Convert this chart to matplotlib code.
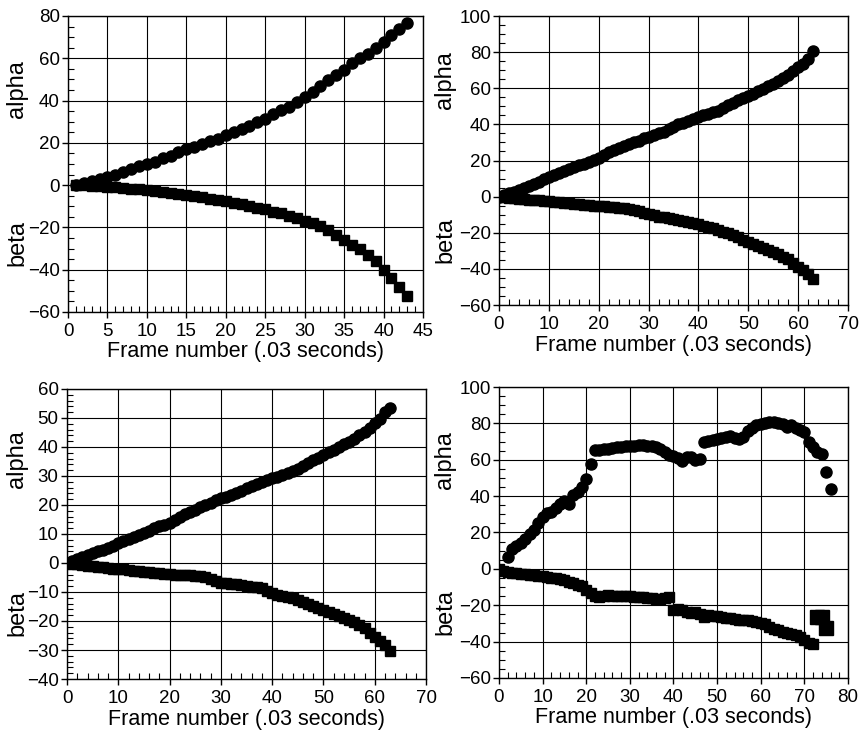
import matplotlib
matplotlib.use("Agg")
import matplotlib.pyplot as plt
from matplotlib.ticker import MultipleLocator

plt.rcParams['font.family'] = ['Liberation Sans', 'DejaVu Sans']

# ---------------- data ----------------
# Panel 1
p1_frames = list(range(1, 44))
p1_alpha = [0, 1.1, 1.9, 2.8, 4, 5, 6.3, 7.7, 9, 10, 11, 12.6, 14, 15.5, 16.9, 18, 19.4,
            21, 22, 23.7, 25.2, 26.5, 28, 30, 31.5, 33.4, 35.5, 37, 39.4, 41.5, 44, 46.8,
            49.7, 52, 54.4, 57.6, 60, 62, 64.7, 67.8, 71, 73.7, 76.8]
p1_beta = [0, -0.1, -0.3, -0.5, -0.8, -1.1, -1.4, -1.7, -2, -2.4, -2.8, -3.2, -3.7, -4.2,
           -4.7, -5.2, -5.8, -6.4, -7, -7.6, -8.4, -9, -9.8, -10.6, -11.5, -12.5, -13.4,
           -14.6, -15.7, -16.8, -18, -19.5, -21, -23.7, -26, -28.4, -30.4, -33, -36, -40,
           -44, -48, -52.4]

# Panel 2
p2_frames = list(range(0, 64))
p2_alpha = [0, 0.8, 1.8, 2.8, 3.8, 5, 6, 7, 8, 9.5, 11, 12, 13.2, 14.2, 15.3, 16.3, 17.3,
            18.3, 19.3, 20.3, 21.5, 23, 24.8, 26, 27, 28, 29, 30, 31, 32.2, 33.2, 34.2, 35,
            35.8, 37.5, 38.8, 40, 41, 42, 43.2, 44.2, 45.2, 46, 46.8, 47.6, 49, 50.5, 52,
            53.3, 54.5, 55.6, 57, 58.3, 59.6, 61, 62.5, 64, 65.8, 67.5, 69.6, 71.6, 73.6,
            76, 80.7]
p2_beta = [0, -0.3, -0.6, -0.9, -1.2, -1.4, -1.6, -1.8, -2.0, -2.2, -2.5, -2.8, -3.0, -3.3,
           -3.6, -3.9, -4.2, -4.5, -4.7, -4.9, -5.1, -5.3, -5.6, -5.9, -6.2, -6.5, -6.9,
           -7.3, -8.0, -9.0, -9.8, -10.4, -11, -11.5, -12, -12.5, -13, -13.5, -14, -14.6,
           -15.3, -16, -16.8, -17.6, -18.4, -19.3, -20.3, -21.4, -22.6, -24, -25.3, -26.3,
           -27.3, -28.4, -29.6, -30.8, -32, -33.3, -34.7, -36.8, -39, -40.8, -42.7, -45.5]

# Panel 3
p3_frames = list(range(0, 64))
p3_alpha = [0, 0.6, 1.3, 2, 2.7, 3.4, 4, 4.6, 5.3, 6, 6.8, 7.6, 8.4, 9.1, 9.8, 10.5, 11.2,
            11.9, 12.6, 13.2, 13.9, 14.8, 15.8, 16.8, 17.6, 18.4, 19.2, 20, 20.8, 21.6,
            22.3, 22.9, 23.5, 24, 24.8, 25.7, 26.4, 27.1, 27.8, 28.5, 29.2, 29.8, 30.4, 31,
            31.6, 32.5, 33.5, 34.5, 35.4, 36.3, 37.2, 38.1, 39, 40, 40.9, 41.8, 42.9, 44,
            45.2, 46.6, 48.1, 49.8, 52, 53.6]
p3_beta = [0, -0.3, -0.5, -0.7, -0.9, -1.1, -1.3, -1.5, -1.7, -1.9, -2.0, -2.2, -2.4, -2.6,
           -2.8, -3.0, -3.2, -3.3, -3.5, -3.7, -3.8, -4.0, -4.1, -4.2, -4.3, -4.5, -4.6,
           -4.8, -5.4, -6.2, -6.8, -7.0, -7.2, -7.4, -7.6, -7.9, -8.2, -8.4, -8.7, -9.5,
           -10.4, -10.9, -11.4, -11.8, -12.2, -12.7, -13.4, -14.1, -14.8, -15.5, -16.2,
           -16.9, -17.6, -18.3, -19.0, -19.6, -20.5, -21.5, -22.5, -24, -25.4, -26.8,
           -28.2, -30.3]

# Panel 4
p4_alpha_frames = list(range(2, 77))
p4_alpha = [6.5, 11, 12.5, 14, 16.5, 19, 21.5, 25, 28.5, 30.5, 31.5, 33.5, 35.5, 37.5, 35.5,
            40.5, 42.5, 45, 49.5, 57.5, 65.5, 65.5, 65.8, 66, 66.5, 67, 67.2, 67.5, 67.6,
            67.8, 68.2, 68, 67.8, 67.5, 67, 66, 64.5, 62.5, 61.8, 61, 59.5, 61.5, 61.5, 60,
            60.5, 69.5, 70.5, 71, 71.5, 72, 72.5, 73.2, 72, 71.5, 72.5, 76, 77.5, 79, 79.8,
            80.2, 80.5, 80.5, 80.2, 79.5, 78, 79, 77.5, 76.5, 75.5, 70, 67, 64, 63, 53.5, 44]
p4_beta_frames = list(range(0, 76))
p4_beta = [0, -1.2, -1.6, -2, -2.3, -2.6, -2.9, -3.2, -3.5, -3.8, -4.1, -4.4, -4.8, -5.2,
           -5.7, -6.3, -7, -7.8, -8.6, -9.6, -11.5, -13.5, -15, -15.2, -14.8, -14.6, -14.8,
           -15, -15, -14.8, -15, -15.2, -15.3, -15.5, -15.8, -16, -16.5, -16.8, -16, -15.5,
           -22.5, -22, -22.5, -23.5, -24, -23.5, -25, -26.5, -25.5, -26, -26, -26.5, -27,
           -27.2, -27.5, -28, -28, -28.2, -28.5, -29, -29.5, -30.5, -32, -32.8, -33.6,
           -34.5, -35, -35.8, -36.4, -37.5, -39, -41, -41.2, -26.2, -26.2, -32.5]

xlabel = "Frame number (.03 seconds)"

# ---------------- figure ----------------
fig = plt.figure(figsize=(8.59, 7.32), dpi=100)

panels = [
    dict(rect=[0.0792, 0.5738, 0.4133, 0.4044], xlim=(0, 45), xmaj=5, xmin=1,
         ylim=(-60, 80), ymaj=20, ymin=5),
    dict(rect=[0.5809, 0.5833, 0.4063, 0.3948], xlim=(0, 70), xmaj=10, xmin=2,
         ylim=(-60, 100), ymaj=20, ymin=5),
    dict(rect=[0.0780, 0.0724, 0.4180, 0.3962], xlim=(0, 70), xmaj=10, xmin=2,
         ylim=(-40, 60), ymaj=10, ymin=2),
    dict(rect=[0.5809, 0.0738, 0.4063, 0.3975], xlim=(0, 80), xmaj=10, xmin=2,
         ylim=(-60, 100), ymaj=20, ymin=5),
]

axes = []
for p in panels:
    ax = fig.add_axes(p['rect'])
    ax.set_xlim(*p['xlim'])
    ax.set_ylim(*p['ylim'])
    ax.xaxis.set_major_locator(MultipleLocator(p['xmaj']))
    ax.xaxis.set_minor_locator(MultipleLocator(p['xmin']))
    ax.yaxis.set_major_locator(MultipleLocator(p['ymaj']))
    ax.yaxis.set_minor_locator(MultipleLocator(p['ymin']))
    ax.tick_params(which='major', direction='out', length=4, width=1, labelsize=13.5,
                   colors='black')
    ax.tick_params(axis='x', which='major', pad=4)
    ax.tick_params(axis='y', which='major', pad=2)
    ax.tick_params(which='minor', direction='in', length=4, width=0.8)
    ax.grid(True, which='major', color='black', linewidth=0.8)
    ax.set_axisbelow(True)
    for s in ax.spines.values():
        s.set_linewidth(1.0)
        s.set_color('black')
    ax.set_xlabel(xlabel, fontsize=15.5, labelpad=1)
    axes.append(ax)

ms_c = 8
ms_s = 7.5
a1, a2, a3, a4 = axes
a1.plot(p1_frames, p1_alpha, 'o', color='black', ms=ms_c, mec='black')
a1.plot(p1_frames, p1_beta, 's', color='black', ms=ms_s, mec='black')
a2.plot(p2_frames, p2_alpha, 'o', color='black', ms=ms_c, mec='black')
a2.plot(p2_frames, p2_beta, 's', color='black', ms=ms_s, mec='black')
a3.plot(p3_frames, p3_alpha, 'o', color='black', ms=ms_c, mec='black')
a3.plot(p3_frames, p3_beta, 's', color='black', ms=ms_s, mec='black')
a4.plot(p4_alpha_frames, p4_alpha, 'o', color='black', ms=ms_c, mec='black')
a4.plot(p4_beta_frames[:73], p4_beta[:73], 's', color='black', ms=ms_s, mec='black')
a4.plot(p4_beta_frames[73:], p4_beta[73:], 's', color='black', ms=9.5, mec='black')

# y labels ("alpha" upper, "beta" lower)
label_pos = [(17, 0.753, 0.233), (445, 0.78, 0.225), (17, 0.76, 0.228), (445, 0.75, 0.227)]
for ax, (xpx, ya, yb), p in zip(axes, label_pos, panels):
    xf = xpx / 859.0
    x0, y0, w, h = p['rect']
    fig.text(xf, y0 + ya * h, 'alpha', rotation=90, ha='center', va='center', fontsize=17)
    fig.text(xf, y0 + yb * h, 'beta', rotation=90, ha='center', va='center', fontsize=17)

fig.savefig('out.png', dpi=100)
